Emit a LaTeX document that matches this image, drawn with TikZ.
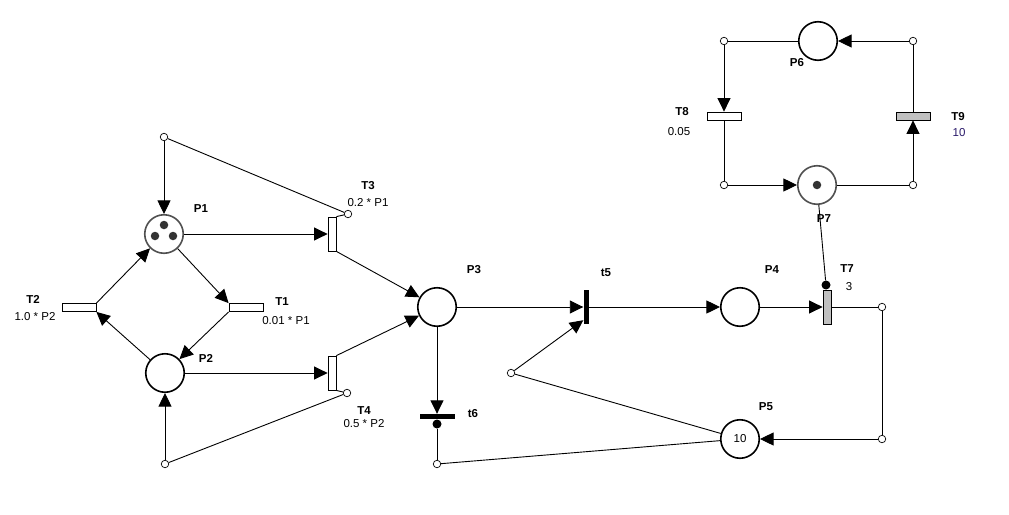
\documentclass[tikz,border=0pt]{standalone}
\usepackage{fontspec}
\setmainfont{Liberation Sans}
\usetikzlibrary{arrows.meta}
\definecolor{ringgrey}{HTML}{505050}
\definecolor{tokengrey}{HTML}{333333}
\definecolor{transgrey}{HTML}{C0C0C0}
\definecolor{ratecolor}{HTML}{2A1A6A}
\begin{document}
\begin{tikzpicture}[x=1pt,y=-1pt,
  place/.style={circle,draw=black,line width=1.6pt,minimum size=38.5pt,inner sep=0pt,fill=white,
                font=\fontsize{11.5}{13}\selectfont},
  markedplace/.style={place,draw=ringgrey},
  token/.style={circle,fill=tokengrey,inner sep=0pt,minimum size=8.5pt},
  trans/.style={rectangle,draw=black,line width=0.8pt,fill=white,inner sep=0pt},
  vtrans/.style={trans,minimum width=8pt,minimum height=34pt},
  htrans/.style={trans,minimum width=34pt,minimum height=8pt},
  timed/.style={fill=transgrey},
  vbar/.style={rectangle,fill=black,inner sep=0pt,minimum width=5pt,minimum height=34pt},
  hbar/.style={rectangle,fill=black,inner sep=0pt,minimum width=35pt,minimum height=5pt},
  joint/.style={circle,draw=black,line width=0.7pt,fill=white,inner sep=0pt,minimum size=7.5pt},
  inhib/.style={circle,fill=black,inner sep=0pt,minimum size=9pt},
  arcline/.style={line width=0.9pt,draw=black},
  flow/.style={arcline,-{Triangle[length=13.5pt,width=13pt]}},
  pname/.style={inner sep=0pt,font=\bfseries\fontsize{11.5}{13}\selectfont},
  pvalue/.style={inner sep=0pt,font=\fontsize{11.5}{13}\selectfont},
]
\fill[white] (0,0) rectangle (1009,514);

% places
\node[markedplace] (P1) at (164,234) {};
\node[token] (P1a) at (164,225) {};
\node[token] (P1b) at (155,236) {};
\node[token] (P1c) at (173,236) {};
\node[place] (P2) at (165,373) {};
\node[place] (P3) at (437,307) {};
\node[place] (P4) at (740,307) {};
\node[place] (P5) at (740,439) {10};
\node[place] (P6) at (818,41) {};
\node[markedplace] (P7) at (817,185) {};
\node[token] (P7a) at (817,185) {};

% transitions
\node[vtrans] (T3) at (332,234) {};
\node[vtrans] (T4) at (332,373) {};
\node[htrans] (T1) at (246,307.5) {};
\node[htrans] (T2) at (79,307.5) {};
\node[vbar] (t5) at (586,307) {};
\node[hbar] (t6) at (437,416.5) {};
\node[vtrans,timed] (T7) at (827,307) {};
\node[htrans] (T8) at (724,116) {};
\node[htrans,timed] (T9) at (913,116) {};

% inhibitor dots
\node[inhib] (d6) at (437,424) {};
\node[inhib] (d7) at (826,285) {};

% bend points
\node[joint] (j1) at (164,137) {};
\node[joint] (j2) at (348,214) {};
\node[joint] (j3) at (347,393) {};
\node[joint] (j4) at (165,464) {};
\node[joint] (j5) at (511,373) {};
\node[joint] (j6) at (437,464) {};
\node[joint] (j7) at (882,307) {};
\node[joint] (j8) at (882,439) {};
\node[joint] (j9) at (724,41) {};
\node[joint] (j10) at (913,41) {};
\node[joint] (j11) at (724,185) {};
\node[joint] (j12) at (913,185) {};

% arcs of the left block
\draw[flow] (j1) -- (P1);
\draw[arcline] (j1) -- (j2);
\draw[arcline] (j2) -- (T3.north east);
\draw[flow] (P1) -- (T3);
\draw[flow] (P1) -- (T1.north west);
\draw[flow] (T1.south west) -- (P2);
\draw[flow] (P2) -- (T2.south east);
\draw[flow] (T2.north east) -- (P1);
\draw[flow] (P2) -- (T4);
\draw[flow] (T3.south east) -- (P3);
\draw[flow] (T4.north east) -- (P3);
\draw[arcline] (T4.south east) -- (j3);
\draw[arcline] (j3) -- (j4);
\draw[flow] (j4) -- (P2);

% middle
\draw[flow] (P3) -- (t5);
\draw[flow] (P3) -- (t6);
\draw[arcline] (d6) -- (j6);
\draw[arcline] (j6) -- (P5);
\draw[arcline] (P5) -- (j5);
\draw[flow] (j5) -- ([yshift=4pt]t5.south west);
\draw[flow] (t5) -- (P4);
\draw[flow] (P4) -- (T7);
\draw[arcline] (T7) -- (j7);
\draw[arcline] (j7) -- (j8);
\draw[flow] (j8) -- (P5);
\draw[arcline] (P7) -- (d7);

% upper loop
\draw[arcline] (P6) -- (j9);
\draw[flow] (j9) -- (T8);
\draw[arcline] (T8) -- (j11);
\draw[flow] (j11) -- (P7);
\draw[arcline] (P7) -- (j12);
\draw[flow] (j12) -- (T9);
\draw[arcline] (T9) -- (j10);
\draw[flow] (j10) -- (P6);

% labels
\node[pname] (lP1) at (201,209) {P1};
\node[pname] (lP2) at (206,358) {P2};
\node[pname] (lP3) at (474,270) {P3};
\node[pname] (lP4) at (772,270) {P4};
\node[pname] (lP5) at (766,407) {P5};
\node[pname] (lP6) at (797,63) {P6};
\node[pname] (lP7) at (824,219) {P7};
\node[pname] (lT1) at (282,302) {T1};
\node[pvalue] (vT1) at (286,321) {0.01 * P1};
\node[pname] (lT2) at (33,299.5) {T2};
\node[pvalue] (vT2) at (35,316.5) {1.0 * P2};
\node[pname] (lT3) at (368,185.5) {T3};
\node[pvalue] (vT3) at (368,203) {0.2 * P1};
\node[pname] (lT4) at (364,411) {T4};
\node[pvalue] (vT4) at (364,424) {0.5 * P2};
\node[pname] (lt5) at (606,273) {t5};
\node[pname] (lt6) at (473,414) {t6};
\node[pname] (lT7) at (847,269) {T7};
\node[pvalue] (vT7) at (849,287) {3};
\node[pname] (lT8) at (682,111.5) {T8};
\node[pvalue] (vT8) at (679,131.5) {0.05};
\node[pname] (lT9) at (958,116.5) {T9};
\node[pvalue,text=ratecolor] (vT9) at (959,133) {10};
\end{tikzpicture}
\end{document}
